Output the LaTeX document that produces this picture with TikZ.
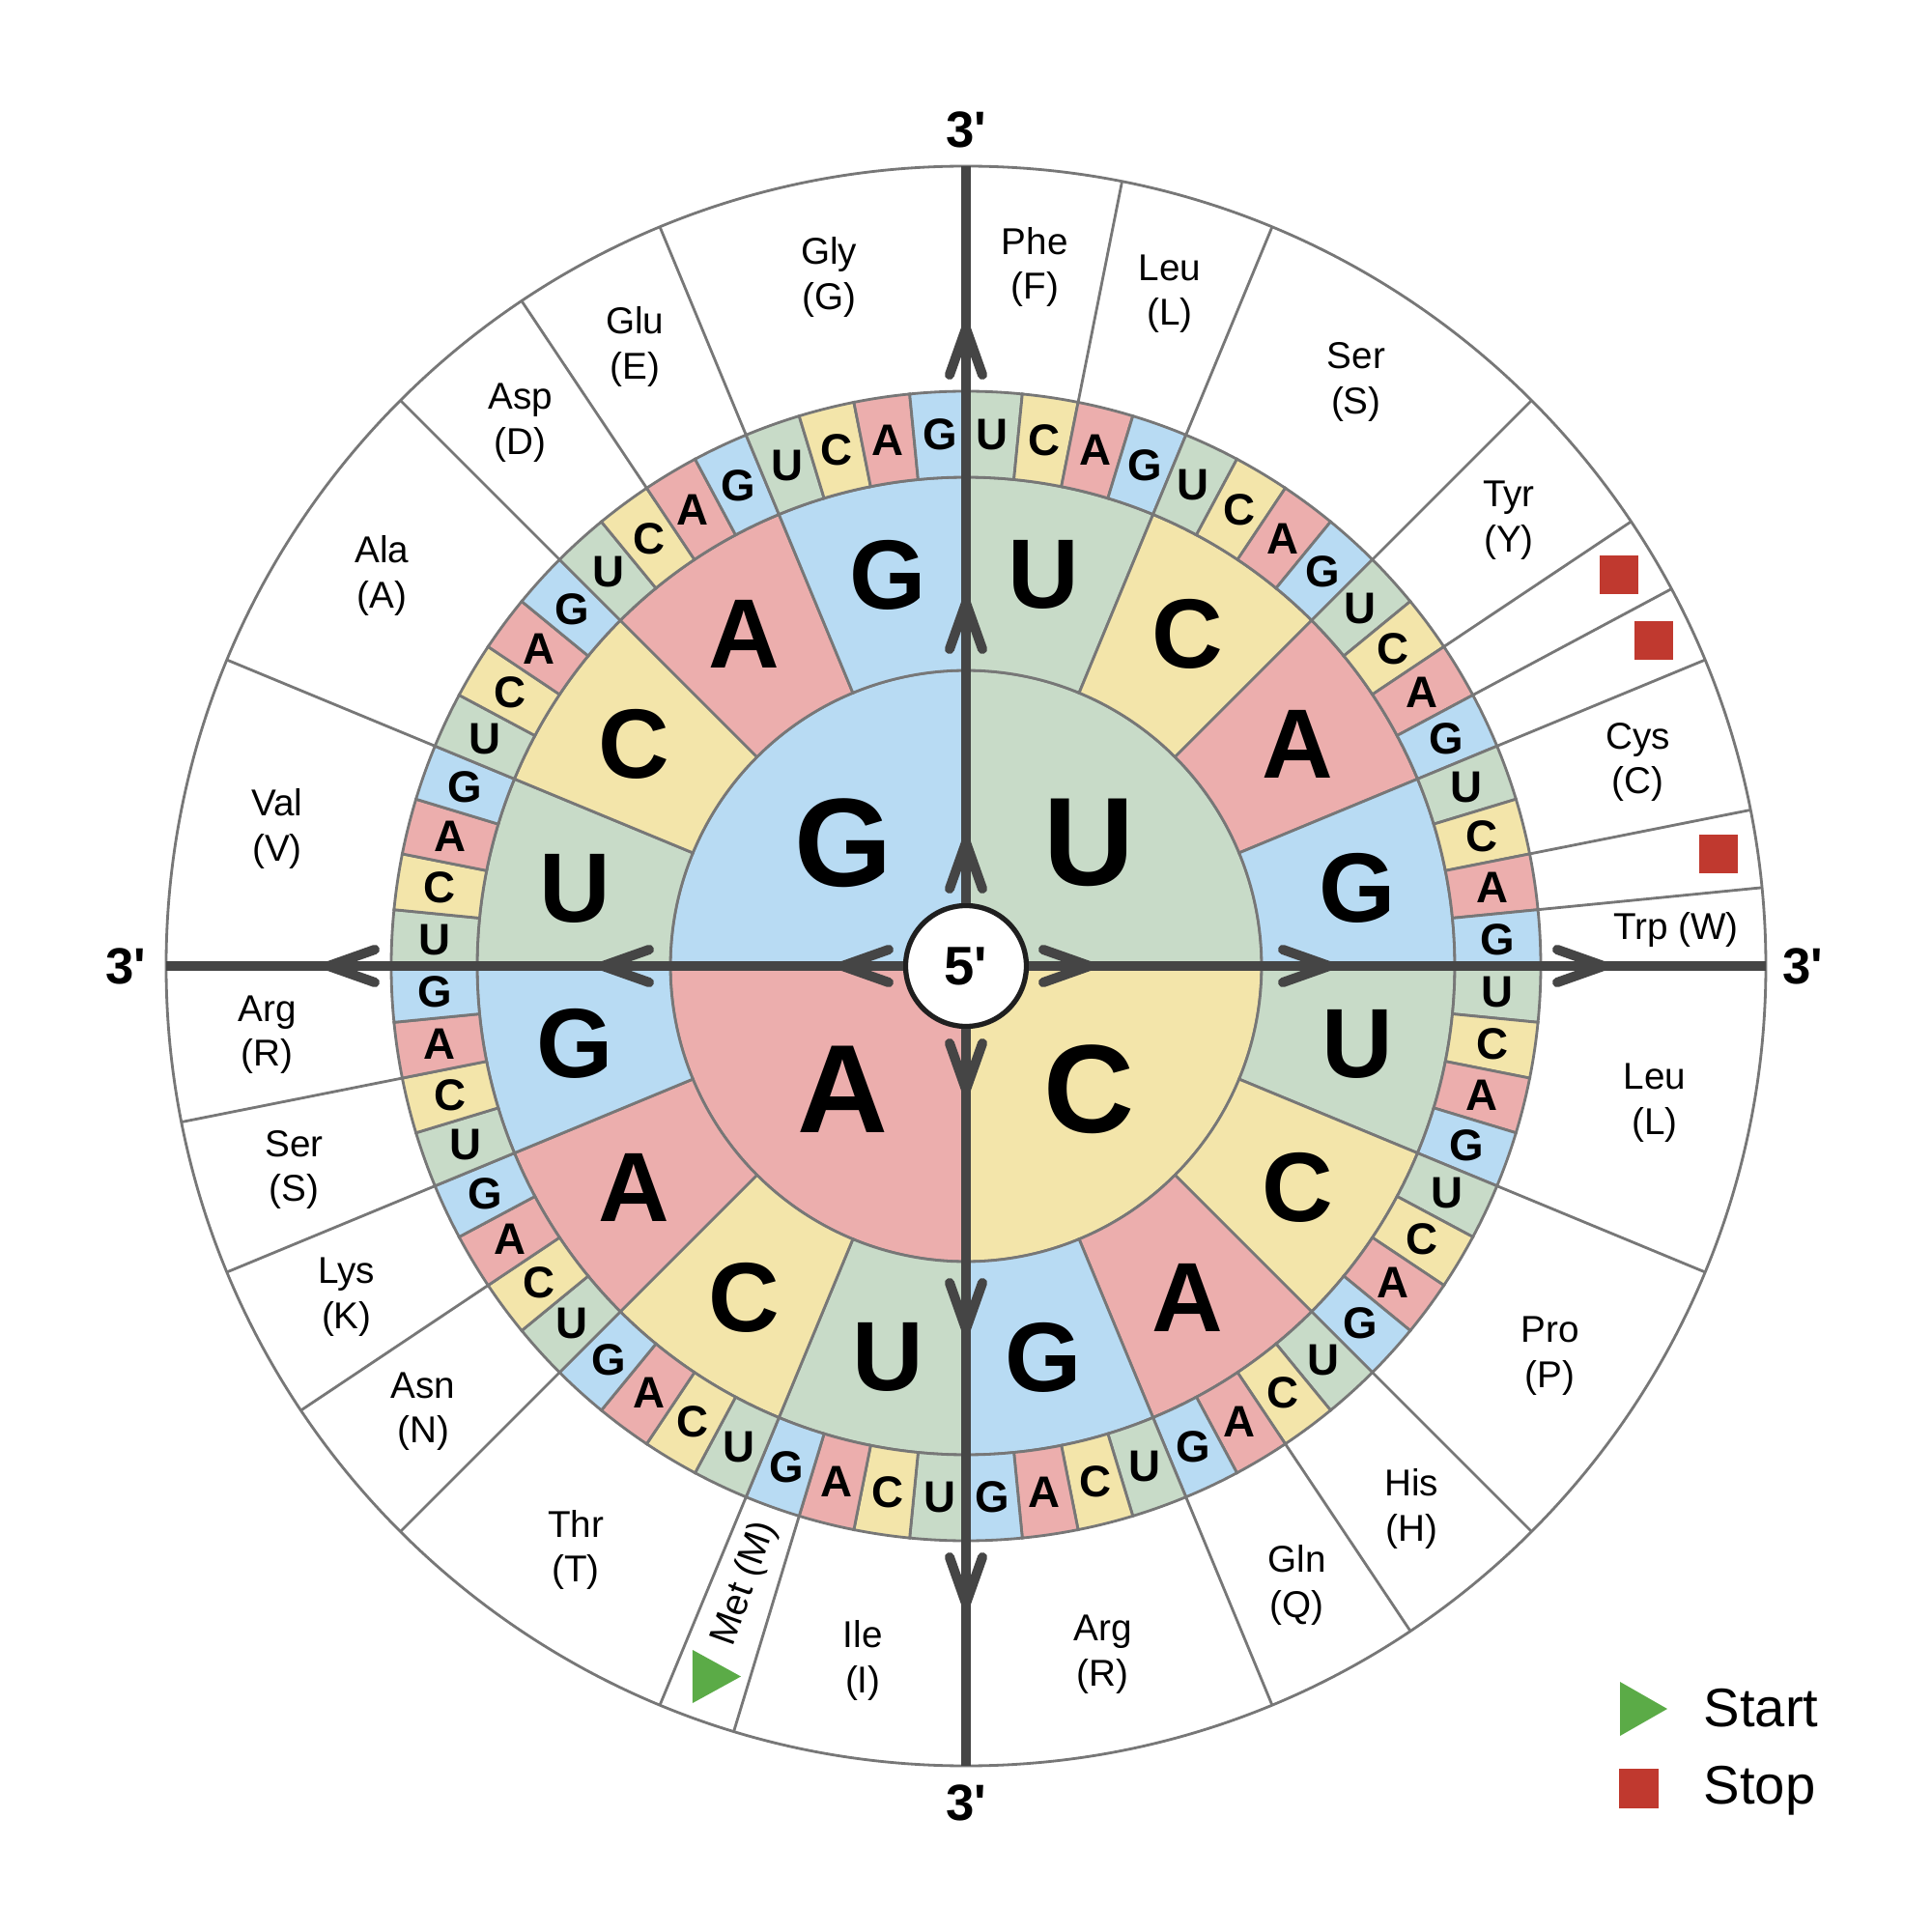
\documentclass[tikz,border=0pt]{standalone}
\usepackage{fontspec}
\setmainfont{Liberation Sans}[Ligatures=TeXOff]
\definecolor{baseU}{HTML}{C8DBC8}
\definecolor{baseC}{HTML}{F3E5AA}
\definecolor{baseA}{HTML}{ECAEAD}
\definecolor{baseG}{HTML}{B8DBF3}
\definecolor{rimgray}{HTML}{777777}
\definecolor{axisgray}{HTML}{454545}
\definecolor{stopred}{HTML}{C0392F}
\definecolor{startgreen}{HTML}{5BAB47}
\newcommand{\ringpart}[5]{%
  \filldraw[fill=#1,rim] ({90-(#2)}:#4) arc[start angle={90-(#2)},end angle={90-(#3)},radius=#4]
    -- ({90-(#3)}:#5) arc[start angle={90-(#3)},end angle={90-(#2)},radius=#5] -- cycle;}
\tikzset{
  rim/.style={draw=rimgray,line width=0.8pt},
  axis/.style={draw=axisgray,line width=2.85pt},
  chevron/.style={draw=axisgray,line width=2.85pt,line cap=round},
  firstbase/.style={inner sep=0,font=\fontsize{37}{40}\selectfont\bfseries},
  secondbase/.style={inner sep=0,font=\fontsize{29}{32}\selectfont\bfseries},
  thirdbase/.style={inner sep=0,font=\fontsize{13}{15}\selectfont\bfseries},
  aalabel/.style={inner sep=0,align=center,font=\fontsize{11}{13.3}\selectfont},
  endlabel/.style={inner sep=0,font=\fontsize{15}{17}\selectfont\bfseries},
  fivebase/.style={circle,fill=white,draw=black!88,line width=1.5pt,minimum size=1.25cm,inner sep=0,font=\fontsize{16}{18}\selectfont\bfseries},
  stopbox/.style={fill=stopred,minimum size=0.4cm,inner sep=0},
  keytext/.style={anchor=base west,inner sep=0,font=\fontsize{16}{18}\selectfont}
}
\begin{document}
\begin{tikzpicture}
\fill[white] (-10,-10) rectangle (10,10);
\useasboundingbox (-10,-10) rectangle (10,10);
\draw[rim] (0,0) circle (8.28);
\foreach \t in {0,11.25,22.5,45,56.25,61.875,67.5,78.75,84.375,90,112.5,135,146.25,157.5,180,196.875,202.5,225,236.25,247.5,258.75,270,292.5,315,326.25,337.5}
  \draw[rim] ({90-\t}:5.95) -- ({90-\t}:8.28);
\foreach \i/\l in {0/U,1/C,2/A,3/G}{
  \filldraw[fill=base\l,rim] (0,0) -- ({90-90*\i}:3.06) arc[start angle={90-90*\i},end angle={-90*\i},radius=3.06] -- cycle;
  \node[firstbase] (f\i) at ({45-90*\i}:1.8) {\l};
  \foreach \j/\m in {0/U,1/C,2/A,3/G}{
    \pgfmathsetmacro\ts{90*\i+22.5*\j}
    \ringpart{base\m}{\ts}{\ts+22.5}{3.06}{5.06}
    \node[secondbase] (s\i\j) at ({90-\ts-11.25}:4.13) {\m};
    \foreach \k/\n in {0/U,1/C,2/A,3/G}{
      \pgfmathsetmacro\tt{\ts+5.625*\k}
      \ringpart{base\n}{\tt}{\tt+5.625}{5.06}{5.95}
      \node[thirdbase] (t\i\j\k) at ({90-\tt-2.8125}:5.505) {\n};
    }
  }
}
\foreach \t/\aa [count=\c] in {5.625/{Phe\\(F)},16.875/{Leu\\(L)},33.75/{Ser\\(S)},50.625/{Tyr\\(Y)},
  73.125/{Cys\\(C)},101.25/{Leu\\(L)},123.75/{Pro\\(P)},140.625/{His\\(H)},151.875/{Gln\\(Q)},
  168.75/{Arg\\(R)},188.4375/{Ile\\(I)},213.75/{Thr\\(T)},230.625/{Asn\\(N)},241.875/{Lys\\(K)},
  253.125/{Ser\\(S)},264.375/{Arg\\(R)},281.25/{Val\\(V)},303.75/{Ala\\(A)},320.625/{Asp\\(D)},
  331.875/{Glu\\(E)},348.75/{Gly\\(G)}}
  \node[aalabel] (aa\c) at ({90-\t}:7.27) {\aa};
\node[aalabel] (trp) at (7.35,0.37) {Trp (W)};
\node[aalabel,rotate=70.3125] (met) at ({90-199.6875}:6.79) {Met (M)};
\fill[startgreen] (-2.83,-7.08) -- (-2.83,-7.63) -- (-2.33,-7.355) -- cycle;
\foreach \t [count=\c] in {59.0625,64.6875,81.5625}
  \node[stopbox] (stop\c) at ({90-\t}:7.88) {};
\node[fivebase] (five) at (0,0) {5'};
\coordinate (endN) at (90:8.28);
\coordinate (endE) at (0:8.28);
\coordinate (endS) at (-90:8.28);
\coordinate (endW) at (180:8.28);
\draw[axis] (five) -- (endN);
\draw[axis] (five) -- (endE);
\draw[axis] (five) -- (endS);
\draw[axis] (five) -- (endW);
\foreach \a in {90,0,-90,180}
  \foreach \r in {1.28,3.76,6.6}
    \draw[chevron,rotate=\a] (\r-0.48,0.17) -- (\r,0) -- (\r-0.48,-0.17);
\node[endlabel] (threeN) at (0,8.66) {3'};
\node[endlabel] (threeE) at (8.66,0) {3'};
\node[endlabel] (threeS) at (0,-8.66) {3'};
\node[endlabel] (threeW) at (-8.7,0) {3'};
\fill[startgreen] (6.77,-7.41) -- (6.77,-7.97) -- (7.26,-7.69) -- cycle;
\node[stopbox,minimum size=0.41cm] (keystop) at (6.96,-8.51) {};
\node[keytext] (keystart) at (7.63,-7.87) {Start};
\node[keytext] (keyend) at (7.63,-8.67) {Stop};
\end{tikzpicture}
\end{document}
